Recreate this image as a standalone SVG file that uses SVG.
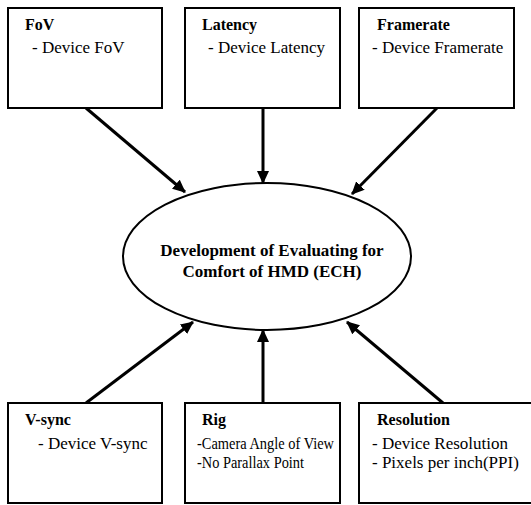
<svg xmlns="http://www.w3.org/2000/svg" width="531" height="505" viewBox="0 0 531 505">
<style>
.box{fill:#fff;stroke:#000;stroke-width:2}
text{font-family:'Liberation Serif','Times New Roman','Tinos','DejaVu Serif',serif;fill:#000}
.t{font-weight:bold;font-size:16px}
.b{font-size:17px}
.c{font-weight:bold;font-size:17px;text-anchor:middle}
.edge{stroke:#000;stroke-width:3;fill:none;marker-end:url(#ah)}
</style>
<defs>
<marker id="ah" markerUnits="userSpaceOnUse" markerWidth="13" markerHeight="12" refX="12" refY="6" orient="auto">
<path d="M0,0 L13,6 L0,12 z" fill="#000"/>
</marker>
</defs>
<rect width="531" height="505" fill="#fff"/>
<g id="connectors">
<line class="edge" x1="86" y1="108" x2="185" y2="192"/>
<line class="edge" x1="263" y1="108" x2="263" y2="183"/>
<line class="edge" x1="437" y1="108" x2="352" y2="194"/>
<line class="edge" x1="86" y1="403" x2="193" y2="322"/>
<line class="edge" x1="263" y1="403" x2="263" y2="330"/>
<line class="edge" x1="443" y1="403" x2="347" y2="322"/>
</g>
<g id="fov">
<rect class="box" x="8" y="8" width="154" height="100"/>
<text class="t" x="25" y="30">FoV</text>
<text class="b" x="32" y="53">- Device FoV</text>
</g>
<g id="latency">
<rect class="box" x="185" y="8" width="155" height="100"/>
<text class="t" x="202" y="30">Latency</text>
<text class="b" x="208" y="53">- Device Latency</text>
</g>
<g id="framerate">
<rect class="box" x="359" y="8" width="155" height="100"/>
<text class="t" x="377" y="30">Framerate</text>
<text class="b" x="372" y="53">- Device Framerate</text>
</g>
<g id="ech">
<ellipse cx="267" cy="256.5" rx="144" ry="73.5" fill="#fff" stroke="#000" stroke-width="2"/>
<text class="c" x="272" y="256">Development of Evaluating for</text>
<text class="c" x="272" y="277">Comfort of HMD (ECH)</text>
</g>
<g id="vsync">
<rect class="box" x="8" y="403" width="154" height="100"/>
<text class="t" x="25" y="425">V-sync</text>
<text class="b" x="38" y="449">- Device V-sync</text>
</g>
<g id="rig">
<rect class="box" x="185" y="403" width="155" height="100"/>
<text class="t" x="202" y="425">Rig</text>
<text class="b" x="197" y="449" textLength="137" lengthAdjust="spacingAndGlyphs">-Camera Angle of View</text>
<text class="b" x="197" y="468" textLength="107" lengthAdjust="spacingAndGlyphs">-No Parallax Point</text>
</g>
<g id="resolution">
<rect class="box" x="359" y="403" width="180" height="100"/>
<text class="t" x="377" y="425">Resolution</text>
<text class="b" x="372" y="449">- Device Resolution</text>
<text class="b" x="372" y="468">- Pixels per inch(PPI)</text>
</g>
</svg>
